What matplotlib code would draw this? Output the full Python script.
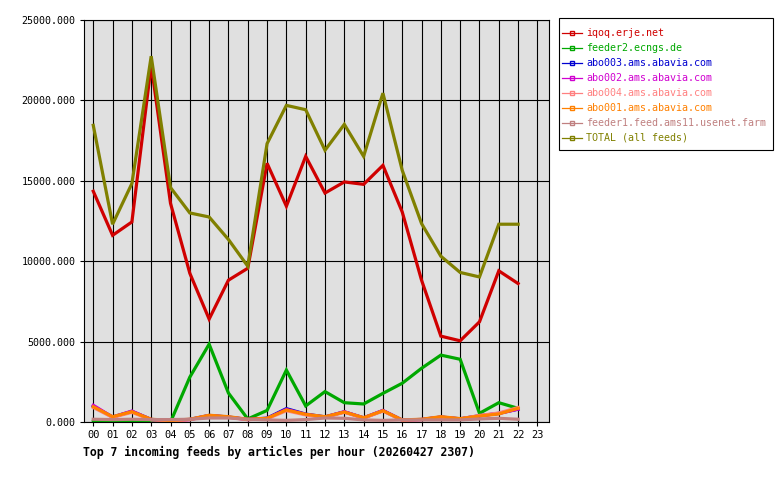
import matplotlib
matplotlib.use("Agg")
import matplotlib.pyplot as plt
from matplotlib.lines import Line2D
from matplotlib.patches import Rectangle

plt.rcParams['font.family'] = ['DejaVu Sans Mono']

# hourly article counts, hours 00..22
hours = list(range(23))
hour_labels = ["%02d" % h for h in range(24)]

feed_names = ["iqoq.erje.net", "feeder2.ecngs.de", "abo003.ams.abavia.com",
              "abo002.ams.abavia.com", "abo004.ams.abavia.com",
              "abo001.ams.abavia.com", "feeder1.feed.ams11.usenet.farm",
              "TOTAL (all feeds)"]
feed_colors = ["#d00000", "#00a800", "#0000d0", "#d000d0", "#ff8080",
               "#ff8000", "#c08080", "#808000"]

iqoq = [14350, 11610, 12440, 22200, 13600, 9250, 6400, 8820, 9560, 16090, 13420, 16520,
        14240, 14930, 14780, 15960, 13060, 8820, 5340, 5050, 6230, 9400, 8610]
feeder2 = [30, 0, 20, 0, 0, 2790, 4840, 1800, 190, 720, 3230, 1000,
           1890, 1200, 1120, 1780, 2410, 3340, 4160, 3900, 540, 1200, 850]
abo003 = [980, 310, 660, 160, 90, 160, 410, 310, 160, 240, 830, 490,
          320, 630, 260, 710, 120, 160, 310, 200, 390, 540, 800]
abo002 = [1040, 300, 680, 150, 80, 150, 400, 300, 150, 220, 780, 470,
          300, 640, 250, 720, 110, 150, 300, 190, 380, 530, 800]
abo004 = [900, 290, 600, 140, 80, 140, 380, 290, 140, 200, 700, 440,
          290, 600, 240, 680, 110, 140, 300, 190, 410, 560, 900]
abo001 = [950, 330, 640, 170, 100, 170, 420, 330, 170, 230, 750, 480,
          330, 620, 270, 700, 130, 170, 330, 210, 370, 500, 850]
feeder1 = [170, 150, 170, 150, 150, 170, 250, 250, 170, 130, 100, 150,
           250, 230, 130, 100, 130, 130, 130, 130, 190, 230, 170]
total = [18450, 12300, 14830, 22750, 14580, 13000, 12750, 11350, 9690, 17310, 19690, 19420,
         16900, 18510, 16520, 20450, 15650, 12340, 10310, 9300, 9020, 12300, 12300]

series = [iqoq, feeder2, abo003, abo002, abo004, abo001, feeder1, total]

fig = plt.figure(figsize=(7.8, 4.8), dpi=100)
ax = fig.add_axes([84 / 780, 1 - 422 / 480, 465 / 780, 402 / 480])
ax.set_facecolor("#e0e0e0")

for vals, col in zip(series, feed_colors):
    ax.plot(hours, vals, color=col, lw=2.3, solid_joinstyle="miter", zorder=3)

ax.set_xlim(-0.48, 23.6)
ax.set_ylim(0, 25000)
ax.set_xticks(range(24))
ax.set_xticklabels(hour_labels, fontsize=7.5)
ax.set_yticks(range(0, 25001, 5000))
ax.set_yticklabels(["%.3f" % v for v in range(0, 25001, 5000)], fontsize=7.2)
ax.tick_params(direction="out", length=3, width=0.8, pad=3, colors="black")
ax.grid(True, color="black", lw=0.8)
ax.set_axisbelow(True)
for sp in ax.spines.values():
    sp.set_linewidth(0.8)

fig.text(83 / 780, 1 - 452 / 480, "Top 7 incoming feeds by articles per hour (20260427 2307)",
         fontsize=8.3, fontweight="bold", va="center", ha="left")

# legend box drawn by hand, legend itself without frame
fig.patches.append(Rectangle((559 / 780, 1 - 150 / 480), 214 / 780, 132 / 480,
                             transform=fig.transFigure, facecolor="white",
                             edgecolor="black", lw=0.8, zorder=0))

handles = [Line2D([0, 0.5, 1], [0, 0, 0], color=c, lw=0.9, marker="s", markersize=2.5,
                  markerfacecolor="none", markevery=[1]) for c in feed_colors]
leg = fig.legend(handles, feed_names, loc="upper left",
                 bbox_to_anchor=(562 / 780, 1 - 28 / 480), fontsize=7.2,
                 handlelength=2.0, handletextpad=0.4, labelspacing=0.5,
                 borderpad=0, borderaxespad=0, frameon=False)
for txt, c in zip(leg.get_texts(), feed_colors):
    txt.set_color(c)

fig.savefig("out.png", dpi=100)
